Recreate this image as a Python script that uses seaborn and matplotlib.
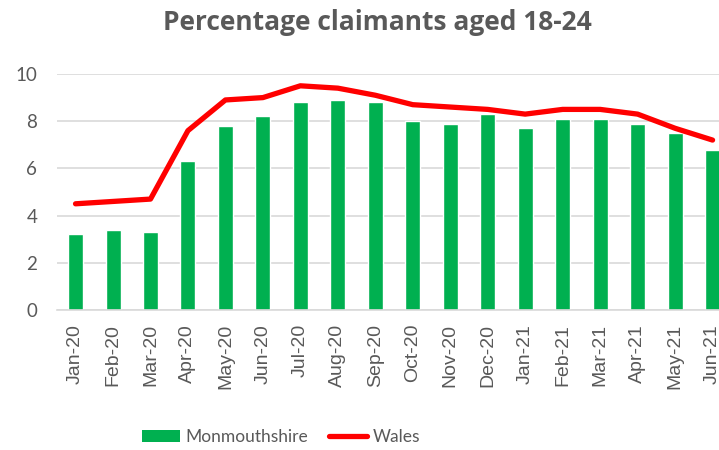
import seaborn as sns
import matplotlib.pyplot as plt
import pandas as pd
from matplotlib.patches import Patch
from matplotlib.lines import Line2D

months = ['Jan-20', 'Feb-20', 'Mar-20', 'Apr-20', 'May-20', 'Jun-20', 'Jul-20', 'Aug-20', 'Sep-20',
          'Oct-20', 'Nov-20', 'Dec-20', 'Jan-21', 'Feb-21', 'Mar-21', 'Apr-21', 'May-21', 'Jun-21']
monmouthshire = [3.2, 3.4, 3.3, 6.3, 7.8, 8.2, 8.8, 8.9, 8.8, 8.0, 7.9, 8.3, 7.7, 8.1, 8.1, 7.9, 7.5, 6.8]
wales = [4.5, 4.6, 4.7, 7.6, 8.9, 9.0, 9.5, 9.4, 9.1, 8.7, 8.6, 8.5, 8.3, 8.5, 8.5, 8.3, 7.7, 7.2]

df = pd.DataFrame({'Month': months, 'Monmouthshire': monmouthshire, 'Wales': wales})

sns.set_style('white')
plt.rcParams['font.family'] = ['Lato', 'DejaVu Sans']
grey = '#595959'
green = '#00B050'
red = '#FF0000'

fig = plt.figure(figsize=(7.19, 4.5), dpi=100)
# plot area runs past the right edge, as in the reference
ax = fig.add_axes([56.8 / 719, 1 - 310 / 450, 674.5 / 719, 236 / 450])

sns.barplot(data=df, x='Month', y='Monmouthshire', color=green, saturation=1,
            width=0.4, ax=ax, zorder=2)
sns.pointplot(data=df, x='Month', y='Wales', color=red, marker='', linewidth=3.8,
              errorbar=None, ax=ax, zorder=3)

ax.set_ylim(0, 10)
ax.set_xlim(-0.5, 17.5)
ax.set_yticks([0, 2, 4, 6, 8, 10])
ax.yaxis.grid(True, color='#D9D9D9', linewidth=1.2, zorder=0)
ax.set_axisbelow(True)
for s in ['top', 'right', 'left']:
    ax.spines[s].set_visible(False)
ax.spines['bottom'].set_color('#D9D9D9')
ax.spines['bottom'].set_linewidth(1.2)
ax.tick_params(axis='both', length=0, colors=grey, labelsize=13.5)
ax.tick_params(axis='y', pad=14)
ax.tick_params(axis='x', rotation=90, pad=10)
for lbl in ax.get_xticklabels():
    lbl.set_fontfamily('Liberation Sans')
    lbl.set_fontsize(14)
ax.set_xlabel('')
ax.set_ylabel('')

fig.text(377 / 719, 1 - 22 / 450, 'Percentage claimants aged 18-24', ha='center', va='center',
         fontsize=19, fontweight='bold', color=grey, family='Open Sans')

handles = [Patch(facecolor=green, edgecolor='none', label='Monmouthshire'),
           Line2D([0], [0], color=red, linewidth=3.8, label='Wales')]
leg = fig.legend(handles=handles, loc='center', bbox_to_anchor=(281 / 719, 1 - 437 / 450), ncol=2,
                 frameon=False, fontsize=12.5, handlelength=2.2, handleheight=0.75,
                 columnspacing=1.2, handletextpad=0.3)
for t in leg.get_texts():
    t.set_color(grey)

fig.savefig('out.png', dpi=100)
